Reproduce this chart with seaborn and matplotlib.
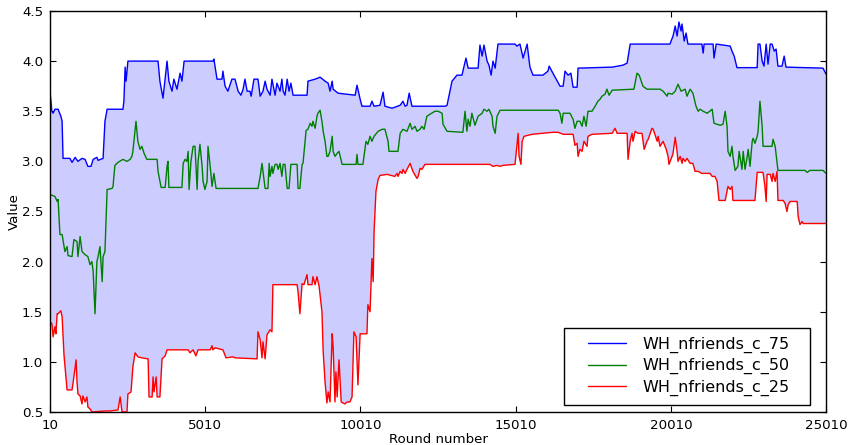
import numpy as np
import pandas as pd
import matplotlib
matplotlib.use("Agg")
import matplotlib.pyplot as plt
import seaborn as sns
from matplotlib.legend_handler import HandlerLine2D

# Percentile traces of WH_nfriends_c over the rounds of the run
rounds_75 = [10, 70, 110, 170, 270, 360, 400, 430, 650, 720, 820, 910, 1040, 1140, 1230, 1330,
             1400, 1520, 1560, 1720, 1780, 1850, 2360, 2390, 2430, 2460, 2520, 3490, 3550, 3650,
             3780, 3840, 3940, 4000, 4100, 4200, 4260, 4330, 5260, 5290, 5390, 5550, 5580, 5650,
             5740, 5870, 5970, 6070, 6160, 6230, 6290, 6360, 6450, 6490, 6580, 6710, 6780, 6870,
             6940, 7000, 7100, 7160, 7260, 7320, 7420, 7480, 7520, 7580, 7650, 7710, 7770, 7840,
             8290, 8320, 8550, 8710, 8870, 8970, 9030, 9100, 9130, 9290, 9840, 9900, 10000, 10060,
             10320, 10380, 10450, 10640, 10740, 10800, 11030, 11120, 11290, 11380, 11450, 11510,
             11580, 11670, 12740, 12800, 12960, 13120, 13280, 13410, 13480, 13800, 13860, 13930,
             13990, 14090, 14150, 14220, 14280, 14350, 14440, 14990, 15050, 15150, 15250, 15380,
             15470, 15570, 15890, 16050, 16090, 16210, 16440, 16540, 16600, 16700, 16790, 16860,
             16990, 17020, 18120, 18470, 18600, 18700, 19980, 20080, 20150, 20210, 20270, 20340,
             20370, 20440, 20500, 20560, 21010, 21050, 21080, 21370, 21400, 21470, 21920, 21980,
             22050, 22140, 22790, 22820, 22880, 22950, 23010, 23080, 23140, 23210, 23270, 23340,
             23400, 23460, 23590, 23660, 23720, 24910, 25010]
values_75 = [3.70, 3.50, 3.48, 3.52, 3.52, 3.45, 3.40, 3.03, 3.03, 2.99, 3.04, 3.00, 3.03, 3.02,
             2.95, 2.95, 3.02, 3.04, 3.01, 3.03, 3.40, 3.52, 3.52, 3.60, 3.94, 3.80, 4.00, 4.00,
             3.80, 3.63, 4.00, 3.80, 3.70, 3.82, 3.72, 3.88, 3.80, 4.00, 4.00, 4.02, 3.82, 3.82,
             3.90, 3.75, 3.70, 3.82, 3.82, 3.70, 3.66, 3.72, 3.82, 3.70, 3.70, 3.65, 3.82, 3.82,
             3.65, 3.70, 3.80, 3.72, 3.66, 3.82, 3.66, 3.78, 3.70, 3.82, 3.70, 3.66, 3.82, 3.70,
             3.78, 3.66, 3.66, 3.80, 3.82, 3.84, 3.80, 3.78, 3.70, 3.80, 3.72, 3.68, 3.66, 3.76,
             3.62, 3.55, 3.55, 3.60, 3.55, 3.56, 3.69, 3.55, 3.53, 3.54, 3.56, 3.60, 3.55, 3.56,
             3.68, 3.55, 3.55, 3.56, 3.80, 3.86, 3.86, 4.03, 3.93, 3.93, 4.16, 4.05, 4.16, 4.00,
             3.96, 3.86, 4.00, 3.93, 4.17, 4.17, 4.15, 4.17, 4.03, 4.17, 3.94, 3.86, 3.86, 3.90,
             3.95, 3.88, 3.75, 3.75, 3.90, 3.86, 3.88, 3.74, 3.74, 3.93, 3.94, 3.96, 3.98, 4.17,
             4.17, 4.25, 4.35, 4.25, 4.39, 4.30, 4.37, 4.20, 4.28, 4.17, 4.17, 4.08, 4.17, 4.17,
             4.03, 4.17, 4.15, 4.10, 4.05, 3.935, 3.935, 4.17, 4.17, 4.00, 3.95, 4.17, 3.97, 4.17,
             4.17, 4.10, 4.12, 3.95, 3.95, 4.05, 3.94, 3.93, 3.87]

rounds_50 = [10, 170, 240, 270, 330, 400, 490, 560, 590, 720, 780, 880, 910, 980, 1040, 1140,
             1230, 1300, 1360, 1400, 1460, 1520, 1560, 1620, 1690, 1720, 1780, 1850, 2010, 2040,
             2100, 2200, 2360, 2490, 2590, 2650, 2680, 2780, 2840, 2910, 2970, 3040, 3130, 3460,
             3490, 3590, 3720, 3780, 3810, 3840, 4260, 4300, 4360, 4420, 4460, 4490, 4550, 4620,
             4680, 4750, 4780, 4840, 4910, 4940, 5000, 5070, 5100, 5170, 5230, 5290, 5360, 6710,
             6780, 6840, 6870, 6940, 7030, 7070, 7100, 7160, 7190, 7260, 7320, 7360, 7420, 7480,
             7520, 7580, 7650, 7710, 7770, 7970, 8000, 8060, 8130, 8160, 8260, 8320, 8390, 8450,
             8480, 8550, 8610, 8640, 8710, 8770, 8810, 8870, 8930, 8970, 9030, 9100, 9130, 9190,
             9260, 9320, 9420, 9870, 9900, 9930, 10090, 10190, 10250, 10320, 10380, 10450, 10580,
             10710, 10800, 10900, 10930, 11220, 11290, 11380, 11510, 11610, 11670, 11770, 11830,
             11930, 11990, 12060, 12150, 12250, 12410, 12510, 12640, 12670, 12800, 13310, 13380,
             13440, 13480, 13540, 13600, 13700, 13800, 13930, 13990, 14090, 14150, 14250, 14280,
             14350, 14410, 14510, 16380, 16440, 16500, 16540, 16760, 16860, 16920, 16990, 17080,
             17150, 17210, 17280, 17340, 17470, 17570, 17660, 17730, 17790, 17890, 17950, 18020,
             18120, 18820, 18920, 18990, 19080, 19110, 19240, 19660, 19760, 19890, 19920, 20050,
             20150, 20240, 20340, 20470, 20530, 20630, 20720, 20820, 20890, 20950, 21050, 21180,
             21340, 21400, 21500, 21600, 21690, 21760, 21820, 21850, 21920, 21980, 22010, 22080,
             22170, 22210, 22300, 22340, 22400, 22470, 22500, 22560, 22630, 22660, 22720, 22790,
             22820, 22880, 22950, 22980, 23270, 23300, 23370, 23460, 24330, 24400, 24490, 24910,
             25010]
values_50 = [2.67, 2.65, 2.60, 2.62, 2.27, 2.27, 2.10, 2.15, 2.06, 2.05, 2.22, 2.20, 2.05, 2.25,
             2.10, 2.07, 2.05, 1.97, 2.00, 1.90, 1.48, 2.00, 2.05, 2.15, 1.80, 2.05, 2.10, 2.72,
             2.73, 2.75, 2.96, 2.99, 3.02, 3.00, 3.02, 3.05, 3.10, 3.40, 3.20, 3.12, 3.15, 3.08,
             3.02, 3.02, 2.90, 2.74, 2.74, 2.95, 3.00, 2.74, 2.74, 2.98, 3.02, 3.00, 3.10, 2.72,
             3.00, 3.15, 3.15, 2.72, 3.00, 3.17, 2.95, 2.80, 2.72, 2.80, 3.15, 2.95, 2.75, 2.88,
             2.73, 2.73, 2.85, 2.98, 2.90, 2.73, 2.73, 2.98, 2.85, 2.95, 2.88, 2.97, 2.97, 2.92,
             2.98, 2.85, 2.97, 2.97, 2.73, 2.73, 2.97, 2.97, 2.73, 2.73, 2.97, 2.98, 3.31, 3.32,
             3.38, 3.35, 3.40, 3.33, 3.45, 3.48, 3.51, 3.40, 3.30, 3.20, 3.05, 3.05, 3.10, 3.25,
             3.10, 3.05, 3.08, 3.10, 2.97, 2.97, 3.07, 2.97, 2.97, 3.20, 3.17, 3.25, 3.20, 3.25,
             3.30, 3.32, 3.32, 3.20, 3.10, 3.10, 3.28, 3.32, 3.30, 3.38, 3.32, 3.35, 3.30, 3.32,
             3.35, 3.32, 3.45, 3.47, 3.50, 3.50, 3.48, 3.37, 3.30, 3.29, 3.50, 3.30, 3.42, 3.35,
             3.48, 3.36, 3.45, 3.48, 3.52, 3.50, 3.52, 3.45, 3.35, 3.28, 3.45, 3.51, 3.51, 3.48,
             3.38, 3.48, 3.48, 3.42, 3.33, 3.40, 3.40, 3.35, 3.45, 3.35, 3.50, 3.50, 3.55, 3.60,
             3.62, 3.65, 3.67, 3.72, 3.66, 3.71, 3.72, 3.88, 3.86, 3.78, 3.75, 3.72, 3.72, 3.70,
             3.65, 3.68, 3.67, 3.70, 3.77, 3.70, 3.72, 3.65, 3.72, 3.68, 3.55, 3.50, 3.52, 3.50,
             3.48, 3.52, 3.38, 3.37, 3.36, 3.37, 3.50, 3.35, 3.10, 3.05, 3.15, 3.05, 2.91, 2.95,
             3.10, 2.92, 3.10, 2.92, 3.05, 3.12, 2.95, 3.20, 3.23, 3.18, 3.25, 3.30, 3.60, 3.35,
             3.15, 3.15, 3.22, 3.15, 2.91, 2.91, 2.89, 2.91, 2.91, 2.88]

rounds_25 = [10, 70, 110, 170, 200, 240, 270, 360, 400, 460, 560, 720, 780, 850, 880, 910, 980,
             1040, 1070, 1140, 1200, 1230, 1300, 1360, 1780, 1940, 2200, 2270, 2330, 2490, 2520,
             2620, 2680, 2750, 2840, 2970, 3170, 3200, 3300, 3330, 3360, 3430, 3460, 3550, 3620,
             3720, 3780, 4460, 4520, 4620, 4710, 4780, 5170, 5230, 5260, 5330, 5580, 5680, 5910,
             5970, 6680, 6710, 6780, 6840, 6870, 6940, 7000, 7100, 7160, 7190, 7970, 8000, 8060,
             8130, 8190, 8290, 8320, 8450, 8480, 8550, 8610, 8680, 8770, 8810, 8870, 8930, 8970,
             9030, 9100, 9130, 9190, 9220, 9260, 9320, 9390, 9510, 9580, 9670, 9740, 9800, 9870,
             9930, 10000, 10220, 10250, 10320, 10380, 10420, 10450, 10510, 10580, 10640, 10870,
             11120, 11190, 11220, 11290, 11350, 11380, 11450, 11510, 11610, 11700, 11830, 11870,
             11930, 11990, 12090, 14180, 14280, 14410, 14510, 14600, 14990, 15090, 15120, 15180,
             15220, 15280, 15540, 15860, 16210, 16380, 16540, 16860, 16920, 16990, 17020, 17080,
             17150, 17210, 17310, 17340, 17470, 18120, 18210, 18280, 18600, 18630, 18700, 18760,
             18790, 18860, 18950, 19080, 19150, 19240, 19280, 19400, 19440, 19570, 19600, 19660,
             19760, 19860, 19920, 19950, 20050, 20080, 20150, 20210, 20240, 20310, 20370, 20400,
             20470, 20530, 20630, 20720, 20790, 20890, 21010, 21270, 21340, 21430, 21500, 21560,
             21760, 21820, 21850, 21920, 21980, 22010, 22720, 22790, 22980, 23040, 23080, 23110,
             23210, 23270, 23300, 23370, 23430, 23460, 23630, 23690, 23750, 23790, 23850, 24080,
             24110, 24170, 24240, 24270, 25010]
values_25 = [1.40, 1.38, 1.25, 1.35, 1.28, 1.48, 1.48, 1.51, 1.45, 1.07, 0.72, 0.72, 0.85, 1.02,
             0.80, 0.68, 0.66, 0.58, 0.66, 0.60, 0.65, 0.55, 0.53, 0.50, 0.51, 0.51, 0.52, 0.65,
             0.50, 0.50, 0.68, 0.70, 0.95, 1.09, 1.05, 1.04, 1.03, 0.65, 0.65, 0.85, 0.70, 0.85,
             0.65, 0.65, 1.03, 1.06, 1.12, 1.12, 1.09, 1.12, 1.06, 1.12, 1.12, 1.16, 1.12, 1.14,
             1.12, 1.04, 1.05, 1.04, 1.03, 1.30, 1.22, 1.04, 1.20, 1.03, 1.27, 1.32, 1.30, 1.77,
             1.77, 1.70, 1.48, 1.78, 1.77, 1.87, 1.77, 1.77, 1.85, 1.77, 1.85, 1.75, 1.50, 1.10,
             0.80, 0.59, 0.70, 0.60, 1.28, 1.15, 0.60, 0.90, 0.65, 1.02, 0.60, 0.58, 0.60, 0.60,
             0.65, 1.30, 1.25, 0.77, 1.28, 1.28, 1.57, 1.50, 2.03, 1.80, 2.30, 2.70, 2.82, 2.86,
             2.87, 2.85, 2.88, 2.85, 2.90, 2.88, 2.92, 2.88, 2.92, 2.98, 2.90, 2.83, 2.85, 2.93,
             2.92, 2.97, 2.97, 2.95, 2.96, 2.95, 2.96, 2.97, 3.28, 3.05, 2.97, 3.20, 3.25, 3.27,
             3.28, 3.29, 3.29, 3.27, 3.27, 3.16, 3.18, 3.05, 3.12, 3.10, 3.20, 3.15, 3.25, 3.27,
             3.28, 3.33, 3.28, 3.28, 3.02, 3.20, 3.28, 3.20, 3.30, 3.28, 3.28, 3.12, 3.20, 3.22,
             3.33, 3.32, 3.20, 3.25, 3.15, 3.20, 3.12, 3.05, 2.97, 3.05, 3.08, 3.24, 3.10, 3.00,
             3.05, 2.98, 3.03, 3.00, 3.03, 2.98, 2.98, 2.90, 2.90, 2.88, 2.88, 2.85, 2.85, 2.80,
             2.61, 2.61, 2.70, 2.75, 2.72, 2.75, 2.61, 2.61, 2.89, 2.89, 2.75, 2.60, 2.87, 2.87,
             2.80, 2.88, 2.80, 2.90, 2.61, 2.61, 2.58, 2.50, 2.57, 2.60, 2.60, 2.45, 2.37, 2.40,
             2.38, 2.38]

series_names = ["WH_nfriends_c_75", "WH_nfriends_c_50", "WH_nfriends_c_25"]
series_colors = ["#0000ff", "#008000", "#ff0000"]
x_ticks = [10, 5010, 10010, 15010, 20010, 25010]
y_ticks = [0.5, 1.0, 1.5, 2.0, 2.5, 3.0, 3.5, 4.0, 4.5]

sns.set_style("ticks", {
    "axes.edgecolor": "black",
    "text.color": "black",
    "axes.labelcolor": "black",
    "xtick.color": "black",
    "ytick.color": "black",
    "xtick.direction": "in",
    "ytick.direction": "in",
})
plt.rcParams["font.family"] = ["DejaVu Sans"]

df = pd.concat([
    pd.DataFrame({"round": r, "value": v, "series": name})
    for r, v, name in zip([rounds_75, rounds_50, rounds_25],
                          [values_75, values_50, values_25], series_names)
], ignore_index=True)

fig, ax = plt.subplots(figsize=(8.49, 4.45), dpi=100)
fig.subplots_adjust(left=0.0589, right=0.973, bottom=0.0742, top=0.9753)

# Shaded band between the 25th and 75th percentile traces
band_x = np.r_[rounds_75, rounds_25[::-1]]
band_y = np.r_[values_75, values_25[::-1]]
ax.fill(band_x, band_y, color="#ccccff", linewidth=0, zorder=1)

sns.lineplot(data=df, x="round", y="value", hue="series", hue_order=series_names,
             palette=series_colors, estimator=None, sort=False, linewidth=1.0,
             ax=ax, zorder=2)

ax.set_xlim(10, 25010)
ax.set_ylim(0.5, 4.5)
ax.set_xticks(x_ticks)
ax.set_xticklabels([str(t) for t in x_ticks])
ax.set_yticks(y_ticks)
ax.set_yticklabels([f"{t:.1f}" for t in y_ticks])
ax.tick_params(direction="in", top=True, right=True, length=4, width=0.8,
               labelsize=9.6, pad=5)
for sp in ax.spines.values():
    sp.set_linewidth(1.0)
    sp.set_color("black")

ax.set_xlabel("Round number", fontsize=9.6, labelpad=1)
ax.set_ylabel("Value", fontsize=9.6, labelpad=0.5)

# Legend box spanning a fixed width in the lower right corner
handles, labels = ax.get_legend_handles_labels()
leg = ax.legend(handles, labels, loc="lower left", mode="expand", fontsize=11.5,
                frameon=True, fancybox=False, edgecolor="black", framealpha=1,
                handlelength=3.35, handletextpad=1.0, borderpad=0.55, labelspacing=0.35,
                bbox_to_anchor=(0.6624, 0.0175, 0.317, 0.0), borderaxespad=0,
                handler_map={h: HandlerLine2D(xpad=0.95) for h in handles})
leg.get_frame().set_linewidth(1.0)

fig.savefig("out.png", dpi=100)
